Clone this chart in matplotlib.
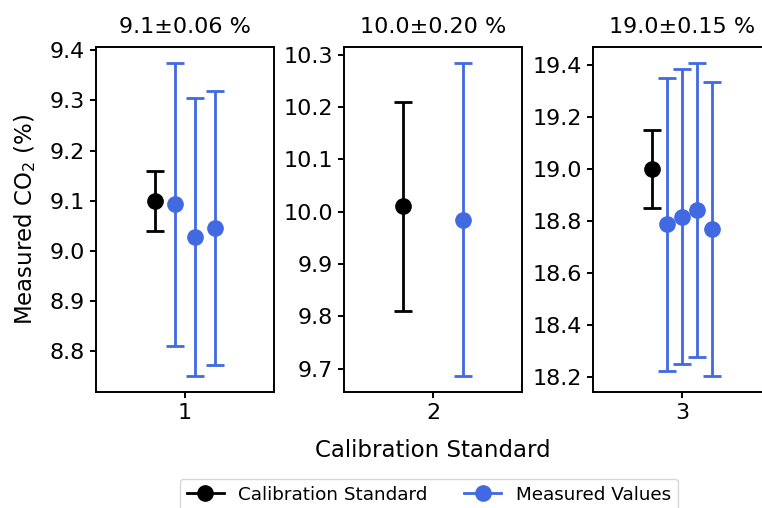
import numpy as np
import matplotlib
matplotlib.use("Agg")
import matplotlib.pyplot as plt
from matplotlib.lines import Line2D

# calibration standards: nominal value and uncertainty
standards = [1, 2, 3]
titles = ["9.1\u00b10.06 %", "10.0\u00b10.20 %", "19.0\u00b10.15 %"]
cal_values = [9.10, 10.01, 19.00]
cal_errors = [0.06, 0.20, 0.15]

# measured values for each standard (mean, uncertainty)
meas_values = [
    [9.093, 9.027, 9.045],
    [9.985],
    [18.787, 18.817, 18.843, 18.769],
]
meas_errors = [
    [0.282, 0.277, 0.273],
    [0.300],
    [0.563, 0.566, 0.565, 0.566],
]
meas_offsets = [
    [-0.05, 0.05, 0.15],
    [0.15],
    [-0.075, 0.0, 0.075, 0.15],
]
cal_offset = -0.15

blue = "#4169E1"
plt.rcParams["font.size"] = 16

fig = plt.figure(figsize=(7.62, 5.08), dpi=100)
lefts = [0.126, 0.4514, 0.7782]
axes = [fig.add_axes([l, 0.2283, 0.2336, 0.679]) for l in lefts]

for i, ax in enumerate(axes):
    x0 = standards[i]
    ax.errorbar(x0 + cal_offset, cal_values[i], yerr=cal_errors[i], fmt="o",
                color="black", ms=11, lw=2, capsize=6.5, capthick=2)
    xs = [x0 + o for o in meas_offsets[i]]
    ax.errorbar(xs, meas_values[i], yerr=meas_errors[i], fmt="o",
                color=blue, ms=11, lw=2, capsize=6.5, capthick=2)
    ax.set_xlim(x0 - 0.45, x0 + 0.45)
    ax.set_xticks([x0])
    ax.set_title(titles[i], fontsize=16, pad=10)
    for s in ax.spines.values():
        s.set_linewidth(1.4)
    ax.tick_params(width=1.4, length=4.5, labelsize=16)

axes[2].set_yticks([18.2, 18.4, 18.6, 18.8, 19.0, 19.2, 19.4])
axes[0].set_ylabel("Measured CO$_2$ (%)", fontsize=16.5, labelpad=8)
fig.text(0.568, 0.114, "Calibration Standard", ha="center", va="center", fontsize=16.5)

handles = [
    Line2D([], [], color="black", marker="o", ms=11, lw=2),
    Line2D([], [], color=blue, marker="o", ms=11, lw=2),
]
fig.legend(handles, ["Calibration Standard", "Measured Values"], ncol=2,
           loc="upper center", bbox_to_anchor=(0.563, 0.058), fontsize=13.2,
           borderaxespad=0)

fig.savefig("out.png", dpi=100)
